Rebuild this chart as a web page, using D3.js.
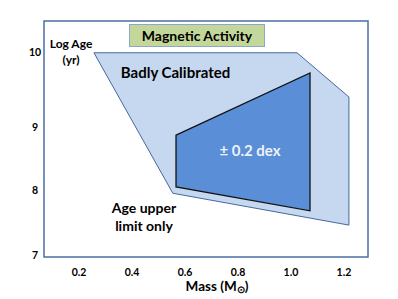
<!DOCTYPE html>
<html>
<head>
<meta charset="utf-8">
<script src="https://cdn.jsdelivr.net/npm/d3@7"></script>
<style>
  body { margin: 0; background: #fff; }
  text { font-family: Lato, "Open Sans", sans-serif; font-weight: bold; }
</style>
</head>
<body>
<div id="chart"></div>
<script>
// tick values
var massTicks = [0.2, 0.4, 0.6, 0.8, 1.0, 1.2];
var ageTicks = [7, 8, 9, 10];

// outer region: "Badly Calibrated" (mass in Msun, log age)
var badlyMass = [0.256, 1.023, 1.219, 1.219, 0.554];
var badlyAge  = [9.99, 9.99, 9.40, 7.46, 7.95];

// inner region: +/- 0.2 dex
var goodMass = [0.566, 1.072, 1.072, 0.566];
var goodAge  = [8.87, 9.72, 7.68, 8.05];

var W = 398, H = 299;

var svg = d3.select("#chart").append("svg")
    .attr("width", W).attr("height", H);

// mass axis is close to linear; age axis labels are unevenly spaced in the source
var x = d3.scaleLinear().domain([0.2, 1.2]).range([79.1, 343.9]);
var y = d3.scaleLinear().domain(ageTicks).range([255, 190, 127, 52]);

var frame = {x0: 44, x1: 368, y0: 21, y1: 257};

function pts(ms, as) {
    return ms.map(function(m, i) { return [x(m), y(as[i])]; });
}
var line = d3.line().curve(d3.curveLinearClosed);

// frame
svg.append("rect")
    .attr("x", frame.x0).attr("y", frame.y0)
    .attr("width", frame.x1 - frame.x0).attr("height", frame.y1 - frame.y0)
    .attr("fill", "none").attr("stroke", "#4a6fa5").attr("stroke-width", 1.5);

// regions
svg.append("path")
    .attr("d", line(pts(badlyMass, badlyAge)))
    .attr("fill", "#c6d8ef").attr("stroke", "#4468a0").attr("stroke-width", 1);

svg.append("path")
    .attr("d", line(pts(goodMass, goodAge)))
    .attr("fill", "#5a8ed6").attr("stroke", "#111").attr("stroke-width", 1.3);

// tick labels
svg.append("g").selectAll("text")
    .data(massTicks).enter().append("text")
    .attr("x", function(d) { return x(d); })
    .attr("y", 275.5)
    .attr("text-anchor", "middle")
    .attr("font-size", 10.5)
    .text(function(d) { return d3.format(".1f")(d); });

svg.append("g").selectAll("text")
    .data(ageTicks).enter().append("text")
    .attr("x", 35)
    .attr("y", function(d) { return y(d); })
    .attr("dy", "0.35em")
    .attr("text-anchor", "middle")
    .attr("font-size", 10.5)
    .text(function(d) { return d; });

// axis titles
var xt = svg.append("text")
    .attr("x", 217).attr("y", 290.5)
    .attr("text-anchor", "middle").attr("font-size", 13.5);
xt.append("tspan").text("Mass (M");
xt.append("tspan").attr("font-size", 10).attr("dy", 2).text("\u2299");
xt.append("tspan").attr("dy", -2).text(")");

var ya = svg.append("text").attr("text-anchor", "middle").attr("font-size", 12);
ya.append("tspan").attr("x", 71).attr("y", 48).text("Log Age");
ya.append("tspan").attr("x", 71).attr("y", 64).text("(yr)");

// title box
svg.append("rect")
    .attr("x", 129.5).attr("y", 24.5).attr("width", 135).attr("height", 22)
    .attr("fill", "#c4d79b").attr("stroke", "#8ea7c8").attr("stroke-width", 1);
svg.append("text")
    .attr("x", 197).attr("y", 40.5)
    .attr("text-anchor", "middle").attr("font-size", 14)
    .text("Magnetic Activity");

// region labels
svg.append("text")
    .attr("x", 175.5).attr("y", 78)
    .attr("text-anchor", "middle").attr("font-size", 15)
    .text("Badly Calibrated");

svg.append("text")
    .attr("x", 250).attr("y", 156)
    .attr("text-anchor", "middle").attr("font-size", 15)
    .attr("fill", "#eef2f8")
    .text("\u00b1 0.2 dex");

var au = svg.append("text").attr("text-anchor", "middle").attr("font-size", 14);
au.append("tspan").attr("x", 144).attr("y", 213).text("Age upper");
au.append("tspan").attr("x", 144).attr("y", 231).text("limit only");
</script>
</body>
</html>
